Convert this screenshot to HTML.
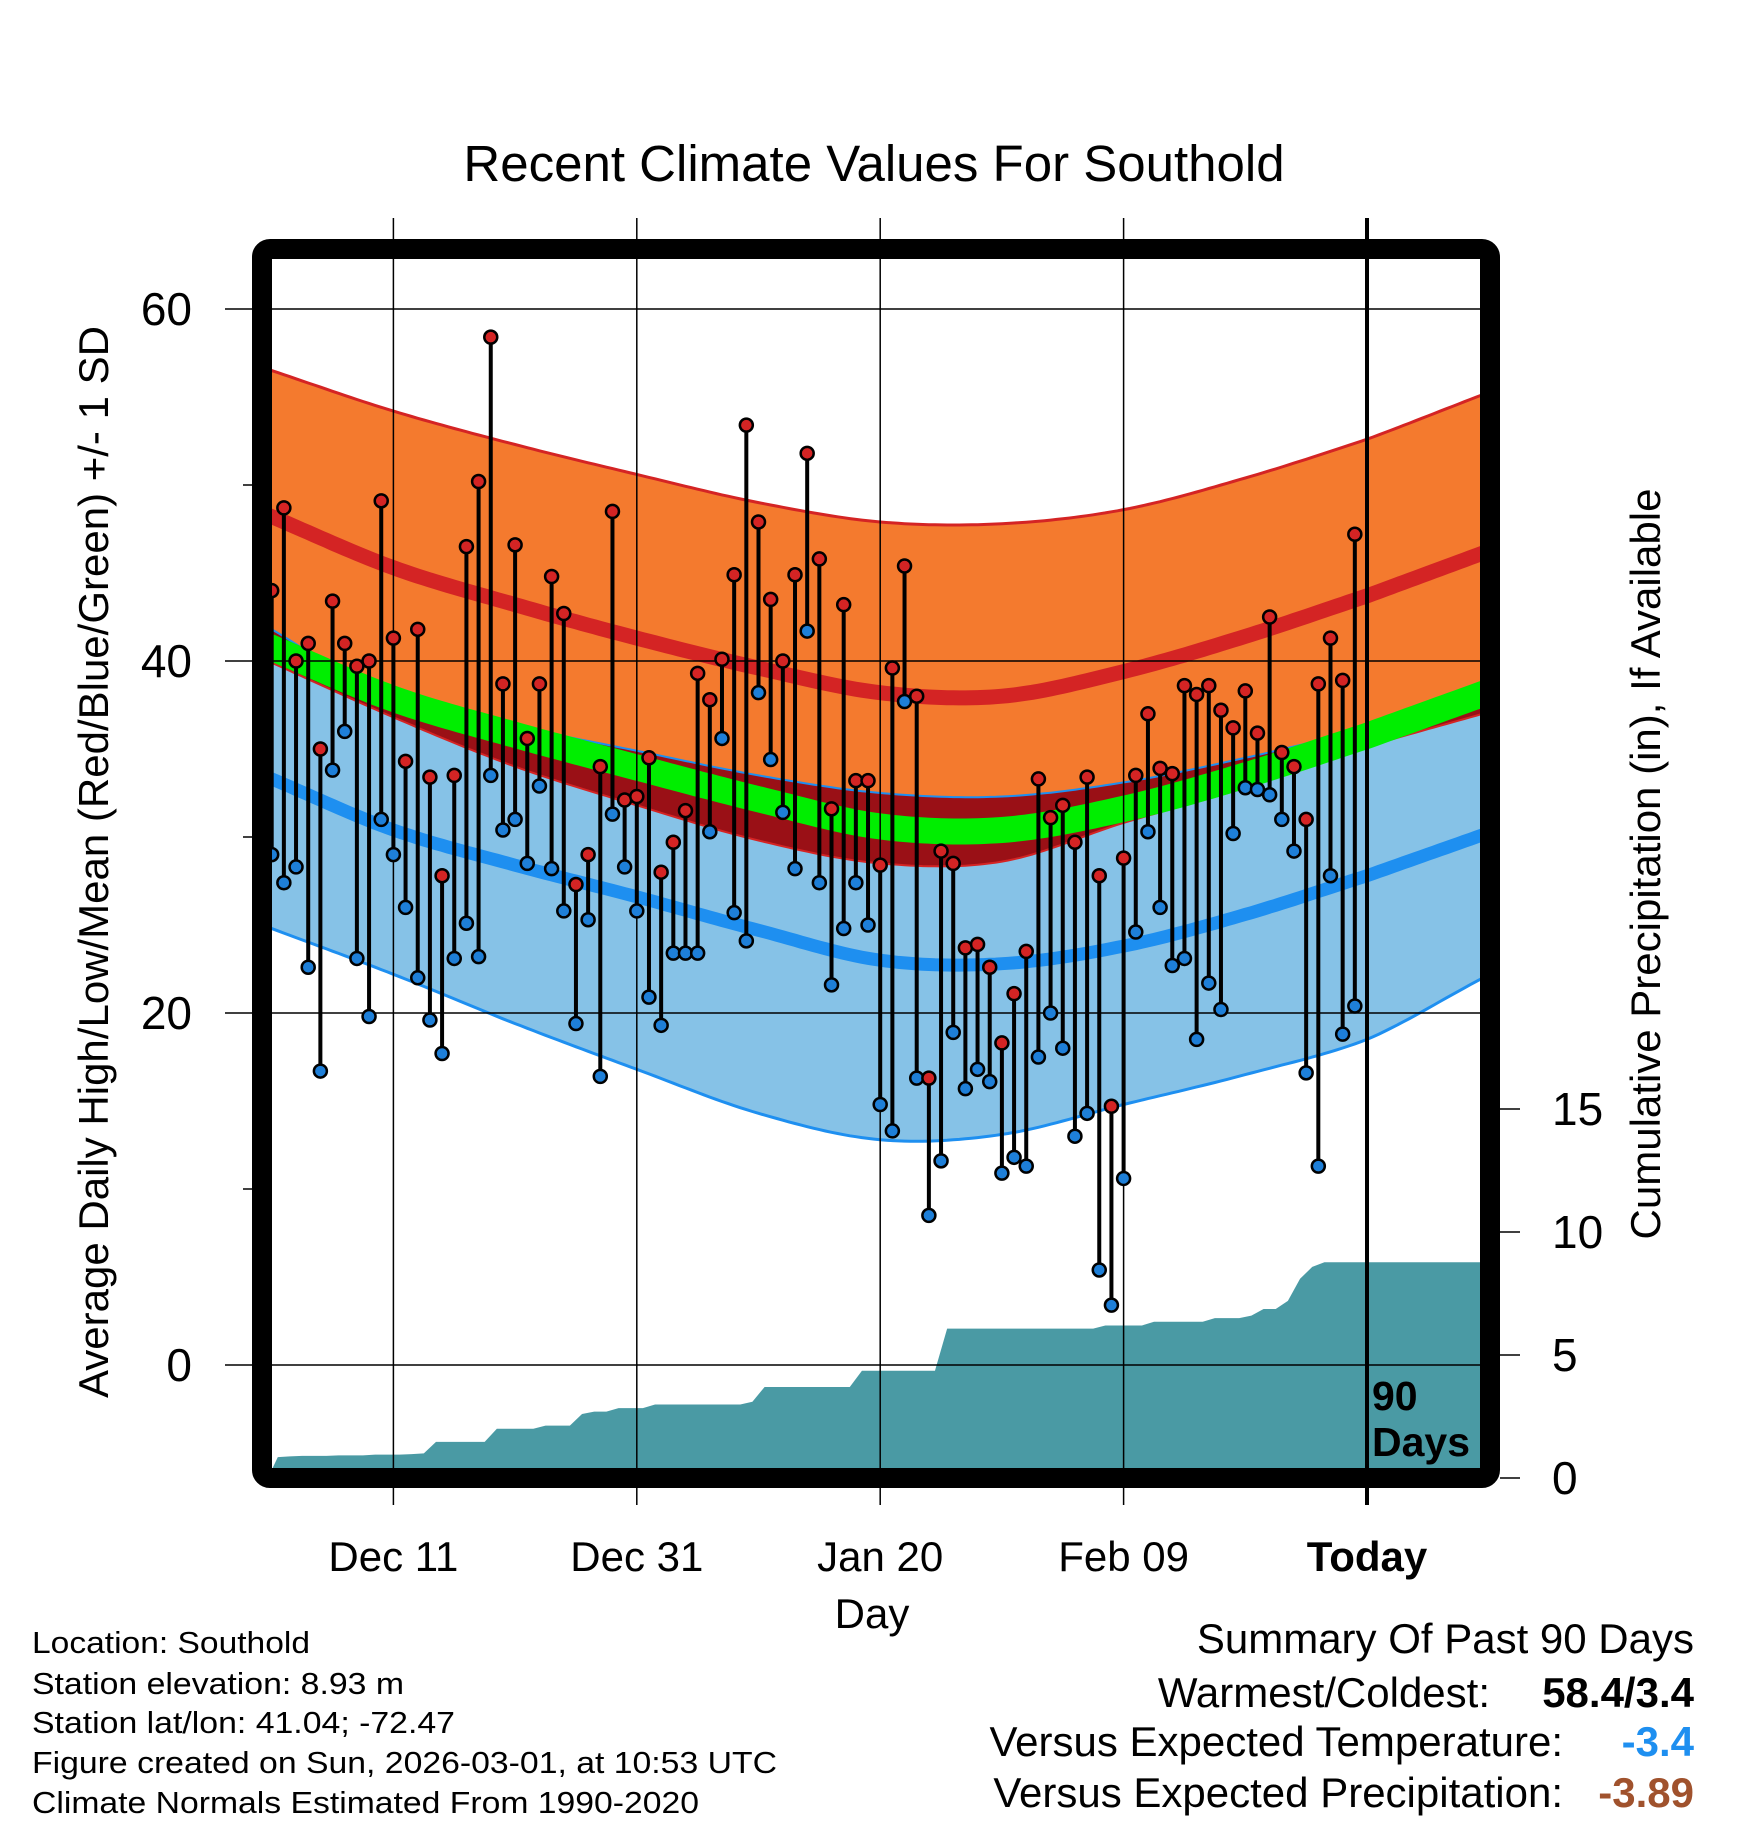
<!DOCTYPE html>
<html><head><meta charset="utf-8"><style>
html,body{margin:0;padding:0;background:#fff}
svg{display:block}
text{font-family:"Liberation Sans",Arial,sans-serif}
</style></head><body>
<svg id="chart" width="1748" height="1828" viewBox="0 0 1748 1828" xmlns="http://www.w3.org/2000/svg">
<defs><clipPath id="plotclip"><rect x="272" y="259" width="1208" height="1209"/></clipPath></defs>
<rect width="1748" height="1828" fill="#fff"/>
<text x="874" y="181" font-size="51" text-anchor="middle">Recent Climate Values For Southold</text>
<g id="bands" clip-path="url(#plotclip)"></g>
<g id="grid"></g>
<g id="marks" clip-path="url(#plotclip)"></g>
<g id="axes"></g>
<rect x="262" y="249" width="1228" height="1229" rx="8" fill="none" stroke="#000" stroke-width="20"/>
<text transform="translate(108,862) rotate(-90)" font-size="42" text-anchor="middle">Average Daily High/Low/Mean (Red/Blue/Green) +/- 1 SD</text>
<text transform="translate(1660,864) rotate(-90)" font-size="42" text-anchor="middle">Cumulative Precipitation (in), If Available</text>
<text x="872" y="1628" font-size="42" text-anchor="middle">Day</text>
<g font-size="31">
<text x="32" y="1653" textLength="278" lengthAdjust="spacingAndGlyphs">Location: Southold</text>
<text x="32" y="1694" textLength="372" lengthAdjust="spacingAndGlyphs">Station elevation: 8.93 m</text>
<text x="32" y="1733" textLength="423" lengthAdjust="spacingAndGlyphs">Station lat/lon: 41.04; -72.47</text>
<text x="32" y="1773" textLength="745" lengthAdjust="spacingAndGlyphs">Figure created on Sun, 2026-03-01, at 10:53 UTC</text>
<text x="32" y="1813" textLength="667" lengthAdjust="spacingAndGlyphs">Climate Normals Estimated From 1990-2020</text>
</g>
<g font-size="42">
<text x="1694" y="1653" text-anchor="end">Summary Of Past 90 Days</text>
<text x="1490" y="1707" text-anchor="end">Warmest/Coldest:</text>
<text x="1694" y="1707" text-anchor="end" font-weight="bold">58.4/3.4</text>
<text x="1563" y="1756" text-anchor="end">Versus Expected Temperature:</text>
<text x="1694" y="1756" text-anchor="end" font-weight="bold" fill="#1e8ff0">-3.4</text>
<text x="1563" y="1807" text-anchor="end">Versus Expected Precipitation:</text>
<text x="1694" y="1807" text-anchor="end" font-weight="bold" fill="#a0522d">-3.89</text>
</g>
</svg>
<script>
// ---- data ----
var highs = [44,48.7,40,41,35,43.4,41,39.7,40,49.1,41.3,34.3,41.8,33.4,27.8,33.5,46.5,50.2,58.4,38.7,46.6,35.6,38.7,44.8,42.7,27.3,29,34,48.5,32.1,32.3,34.5,28,29.7,31.5,39.3,37.8,40.1,44.9,53.4,47.9,43.5,40,44.9,51.8,45.8,31.6,43.2,33.2,33.2,28.4,39.6,45.4,38,16.3,29.2,28.5,23.7,23.9,22.6,18.3,21.1,23.5,33.3,31.1,31.8,29.7,33.4,27.8,14.7,28.8,33.5,37,33.9,33.6,38.6,38.1,38.6,37.2,36.2,38.3,35.9,42.5,34.8,34,31,38.7,41.3,38.9,47.2];
var lows = [29,27.4,28.3,22.6,16.7,33.8,36,23.1,19.8,31,29,26,22,19.6,17.7,23.1,25.1,23.2,33.5,30.4,31,28.5,32.9,28.2,25.8,19.4,25.3,16.4,31.3,28.3,25.8,20.9,19.3,23.4,23.4,23.4,30.3,35.6,25.7,24.1,38.2,34.4,31.4,28.2,41.7,27.4,21.6,24.8,27.4,25,14.8,13.3,37.7,16.3,8.5,11.6,18.9,15.7,16.8,16.1,10.9,11.8,11.3,17.5,20,18,13,14.3,5.4,3.4,10.6,24.6,30.3,26,22.7,23.1,18.5,21.7,20.2,30.2,32.8,32.7,32.4,31,29.2,16.6,11.3,27.8,18.8,20.4];
var precipCum = [0.85,0.88,0.9,0.9,0.9,0.92,0.92,0.92,0.95,0.95,0.95,0.97,1.0,1.47,1.47,1.47,1.47,1.47,2.0,2.0,2.0,2.0,2.13,2.13,2.13,2.6,2.7,2.7,2.84,2.84,2.84,2.99,2.99,2.99,2.99,2.99,2.99,2.99,2.99,3.1,3.7,3.7,3.7,3.7,3.7,3.7,3.7,3.7,4.36,4.36,4.36,4.36,4.36,4.36,4.36,6.07,6.07,6.07,6.07,6.07,6.07,6.07,6.07,6.07,6.07,6.07,6.07,6.07,6.2,6.2,6.2,6.2,6.35,6.35,6.35,6.35,6.35,6.5,6.5,6.5,6.6,6.87,6.87,7.2,8.1,8.58,8.77,8.77,8.77,8.77];
var normDays = [-90,-80,-70,-60,-50,-40,-30,-20,-10,0,9];
var highUpper = [56.5,54.2,52.3,50.6,49.0,47.9,47.8,48.6,50.4,52.6,55.0];
var highMean  = [48.2,45.3,43.2,41.3,39.6,38.2,38.0,39.4,41.4,43.7,46.0];
var highLower = [39.9,36.8,34.0,31.8,29.8,28.5,28.6,30.8,32.8,35.1,36.9];
var lowUpper  = [41.8,37.8,36.3,34.9,33.5,32.5,32.3,33.1,34.5,36.1,37.3];
var lowMean   = [33.3,30.4,28.4,26.6,24.7,23.0,22.8,23.8,25.6,27.8,30.0];
var lowLower  = [24.8,22.2,19.4,16.8,14.3,12.8,13.1,14.8,16.5,18.5,21.8];
var tempTicks = [0,20,40,60];
var tempMinor = [10,30,50];
var precipTicks = [0,5,10,15];
var dateTicks = [-80,-60,-40,-20,0];
var dateLabels = ["Dec 11","Dec 31","Jan 20","Feb 09","Today"];

// ---- axes ----
var NS='http://www.w3.org/2000/svg';
function xDay(d){return 1367+d*12.17;}
function yT(t){return 309+(60-t)*17.6;}
function yP(p){return 1478-p*24.6;}
function mk(tag,attrs,parent){var e=document.createElementNS(NS,tag);for(var k in attrs)e.setAttribute(k,attrs[k]);parent.appendChild(e);return e;}
function interp(arr,d){
  var n=normDays.length,i=0;
  while(i<n-2&&d>normDays[i+1])i++;
  var t=(d-normDays[i])/(normDays[i+1]-normDays[i]);
  var p0=arr[Math.max(i-1,0)],p1=arr[i],p2=arr[i+1],p3=arr[Math.min(i+2,n-1)];
  if(i==0)p0=2*p1-p2; if(i+2>n-1)p3=2*p2-p1;
  var t2=t*t,t3=t2*t;
  return 0.5*((2*p1)+(-p0+p2)*t+(2*p0-5*p1+4*p2-p3)*t2+(-p0+3*p1-3*p2+p3)*t3);
}
var bands=document.getElementById('bands'),grid=document.getElementById('grid'),marks=document.getElementById('marks'),axes=document.getElementById('axes');
var ds=[];for(var d=-91;d<=10;d+=0.5)ds.push(d);
function linePts(arr,fn){return ds.map(function(d){return xDay(d).toFixed(1)+','+yT(fn?fn(d):interp(arr,d)).toFixed(1);});}
function band(up,lo,fill,name){
  var p=linePts(up).concat(linePts(lo).reverse());
  var e=mk('polygon',{points:p.join(' '),fill:fill},bands);
  
  
}
function line(arr,stroke,w,name,fn){
  var e=mk('polyline',{points:linePts(arr,fn).join(' '),fill:'none',stroke:stroke,'stroke-width':w},bands);
  
  
}
(function(){
  var pts=[xDay(-90)+','+1470];
  for(var i=0;i<precipCum.length;i++){pts.push(xDay(i-90+0.5)+','+yP(precipCum[i]));}
  pts.push(xDay(10)+','+yP(precipCum[precipCum.length-1]));
  pts.push(xDay(10)+',1470');
  var e=mk('polygon',{points:pts.join(' '),fill:'#4a9aa4'},bands);
  
  
})();
band(highUpper,highLower,'#f47a2e','high-sd-band');
band(lowUpper,lowLower,'#86c2e7','low-sd-band');
(function(){
  var up=ds.map(function(d){return xDay(d)+','+yT(interp(lowUpper,d));});
  var lo=ds.map(function(d){return xDay(d)+','+yT(Math.min(interp(highLower,d),interp(lowUpper,d)));}).reverse();
  var e=mk('polygon',{points:up.concat(lo).join(' '),fill:'#9a1016'},bands);
  
  
})();
line(highUpper,'#d42424',3,'high-upper-edge');
line(highLower,'#d42424',2,'high-lower-edge');
line(lowUpper,'#1e8ff0',2,'low-upper-edge');
line(lowLower,'#1e8ff0',3,'low-lower-edge');
line(null,'#00ee00',26,'mean-temp-line',function(d){return (interp(highMean,d)+interp(lowMean,d))/2;});
line(highMean,'#d42424',15,'normal-high-line');
line(lowMean,'#1e8ff0',13,'normal-low-line');

tempTicks.forEach(function(t){
  var e=mk('line',{x1:225,x2:1480,y1:yT(t),y2:yT(t),stroke:'#000','stroke-width':1.5},grid);
  
  
  var l=mk('text',{x:192,y:yT(t)+16,'font-size':46,'text-anchor':'end'},axes);l.textContent=t;
  
  
});
tempMinor.forEach(function(t){
  var e=mk('line',{x1:243,x2:262,y1:yT(t),y2:yT(t),stroke:'#000','stroke-width':1.5},grid);
  
  
});
dateTicks.forEach(function(d,i){
  var today=(d===0);
  var e=mk('line',{x1:xDay(d),x2:xDay(d),y1:218,y2:1505,stroke:'#000','stroke-width':today?4:1.5},grid);
  
  
  var l=mk('text',{x:xDay(d),y:1571,'font-size':42,'text-anchor':'middle','font-weight':today?'bold':'normal'},axes);l.textContent=dateLabels[i];
  
  
});
precipTicks.forEach(function(p){
  var e=mk('line',{x1:1500,x2:1520,y1:yP(p),y2:yP(p),stroke:'#000','stroke-width':1.5},axes);
  
  
  var l=mk('text',{x:1552,y:yP(p)+16,'font-size':46},axes);l.textContent=p;
  
  
});
(function(){
  var t=mk('text',{x:1372,'font-size':41,'font-weight':'bold'},axes);
  
  
  var a=mk('tspan',{x:1372,y:1410},t);a.textContent='90';
  var b=mk('tspan',{x:1372,y:1456},t);b.textContent='Days';
})();

highs.forEach(function(h,i){
  var x=xDay(i-90),lo=lows[i];
  var s=mk('line',{x1:x,x2:x,y1:yT(h),y2:yT(lo),stroke:'#000','stroke-width':4},marks);
  
  
  var c1=mk('circle',{cx:x,cy:yT(h),r:6.5,fill:'#d42424',stroke:'#000','stroke-width':2.5},marks);
  
  
  var c2=mk('circle',{cx:x,cy:yT(lo),r:6.5,fill:'#1e7fd8',stroke:'#000','stroke-width':2.5},marks);
  
  
});
</script>
</body></html>
